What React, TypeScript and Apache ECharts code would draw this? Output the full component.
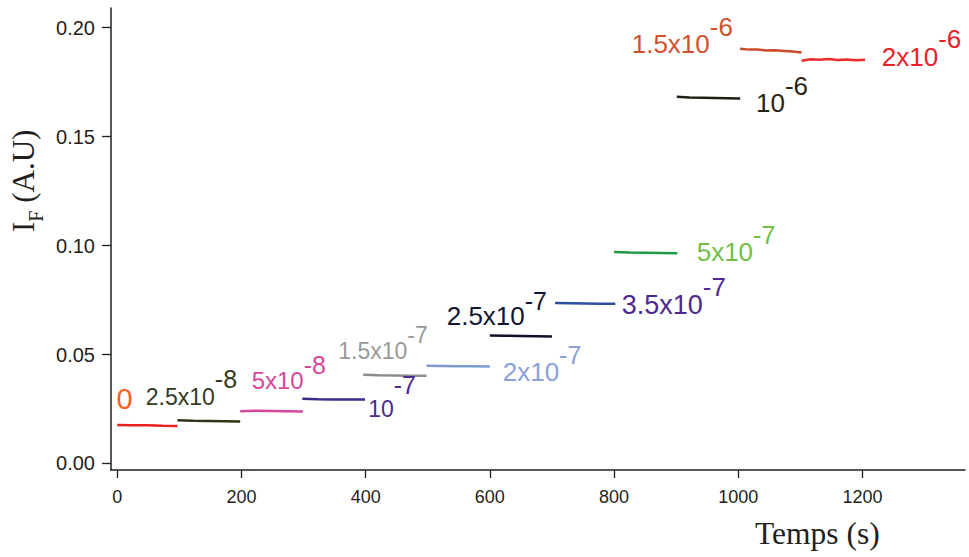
import React, { useEffect, useRef } from "react";
import * as echarts from "echarts";

// ---- Data ----
const xTicks = [0, 200, 400, 600, 800, 1000, 1200];
const yTicks = [0, 0.05, 0.1, 0.15, 0.2];

// concentration labels (mantissa part and exponent)
const labelBase = ["0", "2.5x10", "5x10", "10", "1.5x10", "2x10", "2.5x10", "3.5x10", "5x10", "10", "1.5x10", "2x10"];
const labelExp = ["", "-8", "-8", "-7", "-7", "-7", "-7", "-7", "-7", "-6", "-6", "-6"];

// time span (s) of each recorded segment
const segStart = [0, 97, 198, 298, 396, 498, 600, 705, 800, 901, 1003, 1102];
const segEnd = [97, 198, 299, 399, 498, 600, 700, 802, 902, 1003, 1102, 1204];

// fluorescence intensity readings, evenly spaced in time across each segment
const seg0 = [0.0177, 0.0175, 0.0175, 0.0173, 0.0172];
const seg1 = [0.0198, 0.0196, 0.0195, 0.0194, 0.0193];
const seg2 = [0.024, 0.0242, 0.0241, 0.024, 0.0239];
const seg3 = [0.0297, 0.0295, 0.0294, 0.0294, 0.0293];
const seg4 = [0.0407, 0.0405, 0.0404, 0.0403, 0.0402];
const seg5 = [0.0448, 0.0447, 0.0446, 0.0446, 0.0445];
const seg6 = [0.0587, 0.0586, 0.0585, 0.0584, 0.0583];
const seg7 = [0.0736, 0.0735, 0.0734, 0.0733, 0.0733];
const seg8 = [0.097, 0.0968, 0.0967, 0.0966, 0.0965];
const seg9 = [0.1683, 0.1679, 0.1678, 0.1677, 0.1676, 0.1675];
const seg10 = [0.1903, 0.1899, 0.19, 0.1895, 0.1896, 0.1893, 0.189, 0.1886];
const seg11 = [0.1848, 0.1855, 0.1852, 0.1856, 0.1851, 0.1854, 0.185, 0.1852];
const segValues = [seg0, seg1, seg2, seg3, seg4, seg5, seg6, seg7, seg8, seg9, seg10, seg11];

// label anchor points (data coordinates: left edge, vertical centre of mantissa)
const labelX = [-1, 46, 216.5, 404, 356, 620.7, 530.5, 812.3, 933, 1028.5, 828.4, 1231];
const labelY = [0.0298, 0.0303, 0.0382, 0.0248, 0.0518, 0.0421, 0.0677, 0.0729, 0.097, 0.1656, 0.1926, 0.1866];

// ---- Styles ----
const traceColors = ["#E8211F", "#2E3419", "#D6469A", "#3F2A8A", "#8C8C8C", "#7F9BD3", "#111228", "#2B4EA2", "#1E9A48", "#231E12", "#C94A26", "#EE2A2A"];
const labelColors = ["#F26122", "#343A1E", "#D7479B", "#4E2A8E", "#999999", "#8AA0D8", "#141530", "#4E2A8E", "#70BF44", "#2A2417", "#D2512D", "#EC2027"];
const labelSizes = [29, 23, 24, 23, 23, 26, 26, 27, 26, 26, 26, 26];
const supSizes = [0, 25, 25, 25, 23, 25, 25, 26, 25, 26, 26, 26];
const labelRaise = [0, 18.5, 15.5, 24, 16, 17, 15, 17.5, 17.5, 16.3, 17, 18];

const SANS = "Liberation Sans, Arial, sans-serif";
const SERIF = "Liberation Serif, Times New Roman, serif";
const AXIS = "#231F20";

export default function App() {
  const ref = useRef<HTMLDivElement>(null);
  useEffect(() => {
    if (!ref.current) return;
    const chart = echarts.init(ref.current, undefined, { renderer: "svg" });

    const lineSeries = segValues.map((vals, i) => {
      const n = vals.length;
      const data = vals.map((v, k) => [segStart[i] + ((segEnd[i] - segStart[i]) * k) / (n - 1), v]);
      return {
        type: "line",
        data,
        showSymbol: false,
        symbol: "none",
        smooth: false,
        lineStyle: { color: traceColors[i], width: 2.5 },
        z: 3,
        silent: true,
      };
    });

    const labelSeries = {
      type: "scatter",
      symbolSize: 1,
      itemStyle: { color: "rgba(0,0,0,0)", opacity: 1 },
      silent: true,
      z: 5,
      data: labelX.map((x, i) => {
        const fs = labelSizes[i];
        const formatter = labelExp[i] ? `{b|${labelBase[i]}}{s|${labelExp[i]}}` : `{b|${labelBase[i]}}`;
        return {
          value: [x, labelY[i]],
          label: {
            show: true,
            position: "inside",
            align: "left",
            verticalAlign: "middle",
            opacity: 1,
            formatter,
            rich: {
              b: { fontSize: fs, color: labelColors[i], fontFamily: SANS, opacity: 1 },
              s: {
                fontSize: supSizes[i] || fs,
                color: labelColors[i],
                fontFamily: SANS,
                opacity: 1,
                padding: [0, 0, 2 * labelRaise[i], 0],
              },
            },
          },
        };
      }),
    };

    chart.setOption({
      animation: false,
      backgroundColor: "#ffffff",
      grid: { left: 111, right: 4, top: 8, bottom: 87, containLabel: false, outerBoundsMode: "none" },
      xAxis: {
        type: "value",
        min: -10,
        max: 1365,
        axisLine: { show: true, onZero: false, lineStyle: { color: AXIS, width: 1.5 } },
        axisTick: { show: true, customValues: xTicks, length: 8, lineStyle: { color: AXIS, width: 1.3 } },
        axisLabel: {
          customValues: xTicks,
          margin: 18,
          fontSize: 18,
          fontFamily: SANS,
          color: AXIS,
          formatter: (v: number) => String(Math.round(v)),
        },
        splitLine: { show: false },
      },
      yAxis: {
        type: "value",
        min: -0.003,
        max: 0.209,
        axisLine: { show: true, onZero: false, lineStyle: { color: AXIS, width: 1.5 } },
        axisTick: { show: true, customValues: yTicks, length: 9, lineStyle: { color: AXIS, width: 1.3 } },
        axisLabel: {
          customValues: yTicks,
          margin: 16,
          fontSize: 20,
          fontFamily: SANS,
          color: AXIS,
          formatter: (v: number) => v.toFixed(2),
        },
        splitLine: { show: false },
      },
      graphic: [
        {
          type: "text",
          x: 755,
          y: 533,
          style: {
            text: "Temps (s)",
            font: `31.5px ${SERIF}`,
            fill: AXIS,
            align: "left",
            verticalAlign: "middle",
          },
        },
        {
          type: "text",
          x: 23,
          y: 232,
          rotation: Math.PI / 2,
          style: {
            text: "{i|I}{f|F}{r| (A.U)}",
            align: "left",
            verticalAlign: "middle",
            fill: AXIS,
            rich: {
              i: { fontSize: 31, fontFamily: SERIF, fill: AXIS },
              f: { fontSize: 20, fontFamily: SERIF, fill: AXIS, padding: [26, 0, 0, 0] },
              r: { fontSize: 31, fontFamily: SERIF, fill: AXIS },
            },
          },
        },
      ],
      series: [...lineSeries, labelSeries],
    });

    return () => chart.dispose();
  }, []);

  return (
    <div
      ref={ref}
      style={{ position: "fixed", left: 0, top: 0, width: 969, height: 557, background: "#fff" }}
    />
  );
}
